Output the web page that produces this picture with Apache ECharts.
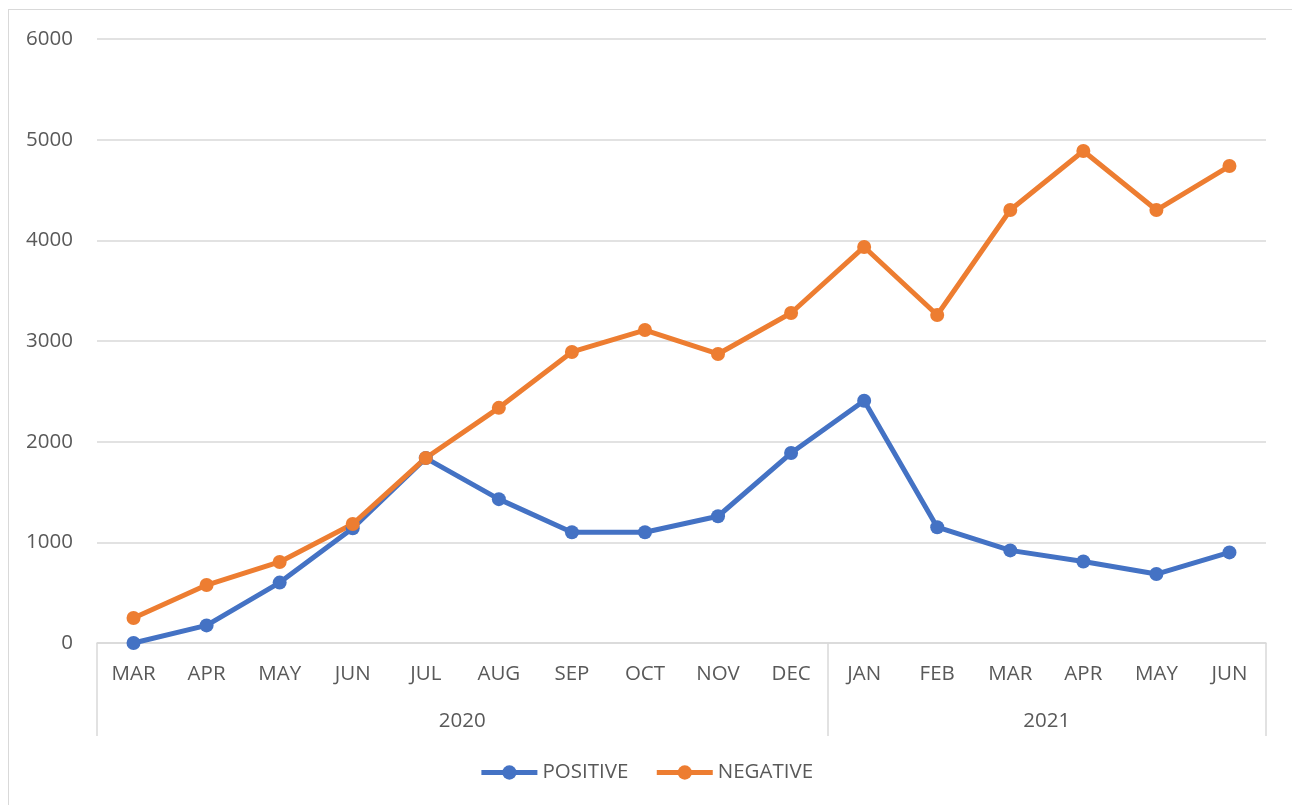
<!DOCTYPE html>
<html>
<head>
<meta charset="utf-8">
<script src="https://cdn.jsdelivr.net/npm/echarts@6/dist/echarts.min.js"></script>
<style>
  html, body { margin: 0; padding: 0; background: #fff; }
  #frame { position: absolute; left: 8px; top: 9px; width: 1300px; height: 820px; border-left: 1px solid #d9d9d9; border-top: 1px solid #d9d9d9; }
  #chart { position: absolute; left: 0; top: 0; width: 1292px; height: 805px; }
</style>
</head>
<body>
<div id="frame"></div>
<div id="chart"></div>
<script>
// Categories (months) and year groups
const months = ['MAR', 'APR', 'MAY', 'JUN', 'JUL', 'AUG', 'SEP', 'OCT', 'NOV', 'DEC', 'JAN', 'FEB', 'MAR', 'APR', 'MAY', 'JUN'];
const years = ['2020', '2021'];
const yearSizes = [10, 6];

// Series values
const positive = [0, 175, 600, 1140, 1837, 1429, 1100, 1100, 1259, 1887, 2406, 1150, 920, 810, 685, 900];
const negative = [248, 576, 805, 1182, 1838, 2336, 2891, 3109, 2871, 3278, 3934, 3258, 4301, 4887, 4301, 4738];

const BLUE = '#4472C4';
const ORANGE = '#ED7D31';
const TEXT = '#595959';
const LINE = '#d9d9d9';
const FONT = 'Open Sans';
const FS = 20.5;

// Year group boundaries and centres, in category units
const yearBounds = [0];
const yearCenters = [];
yearSizes.forEach((n, i) => {
    const start = yearBounds[i];
    yearBounds.push(start + n);
    yearCenters.push(start + n / 2);
});

const chart = echarts.init(document.getElementById('chart'));

function lineSeries(name, data, color) {
    return {
        name: name,
        type: 'line',
        data: data,
        symbol: 'circle',
        symbolSize: 14,
        lineStyle: { width: 5, color: color },
        itemStyle: { color: color },
        z: 3
    };
}

const option = {
    animation: false,
    textStyle: { fontFamily: FONT },
    grid: { left: 97, right: 26, top: 39, bottom: 162, containLabel: false },
    legend: {
        bottom: 17,
        left: 'center',
        itemWidth: 56,
        itemHeight: 18,
        itemGap: 26,
        lineStyle: { width: 5 },
        textStyle: { color: TEXT, fontSize: FS, fontFamily: FONT, padding: [0, 0, 0, 0] },
        data: ['POSITIVE', 'NEGATIVE']
    },
    xAxis: [
        {
            type: 'category',
            data: months,
            boundaryGap: true,
            axisLine: { lineStyle: { color: LINE, width: 1.5 } },
            axisTick: { show: false },
            axisLabel: { color: TEXT, fontSize: FS, margin: 21, interval: 0 },
            splitLine: { show: false }
        },
        {
            type: 'value',
            position: 'bottom',
            min: 0,
            max: months.length,
            axisLine: { show: false },
            splitLine: { show: false },
            axisTick: {
                show: true,
                customValues: yearBounds,
                length: 93,
                lineStyle: { color: LINE, width: 1.5 }
            },
            axisLabel: {
                show: true,
                customValues: yearCenters,
                color: TEXT,
                fontSize: FS,
                margin: 68,
                formatter: function (v) {
                    const i = yearCenters.indexOf(v);
                    return i >= 0 ? years[i] : '';
                }
            }
        }
    ],
    yAxis: {
        type: 'value',
        min: 0,
        max: 6000,
        interval: 1000,
        axisLine: { show: false },
        axisTick: { show: false },
        axisLabel: { color: TEXT, fontSize: FS, margin: 24, formatter: v => String(v) },
        splitLine: { lineStyle: { color: LINE, width: 1.5 } }
    },
    series: [
        lineSeries('POSITIVE', positive, BLUE),
        lineSeries('NEGATIVE', negative, ORANGE)
    ]
};

chart.setOption(option);
</script>
</body>
</html>
